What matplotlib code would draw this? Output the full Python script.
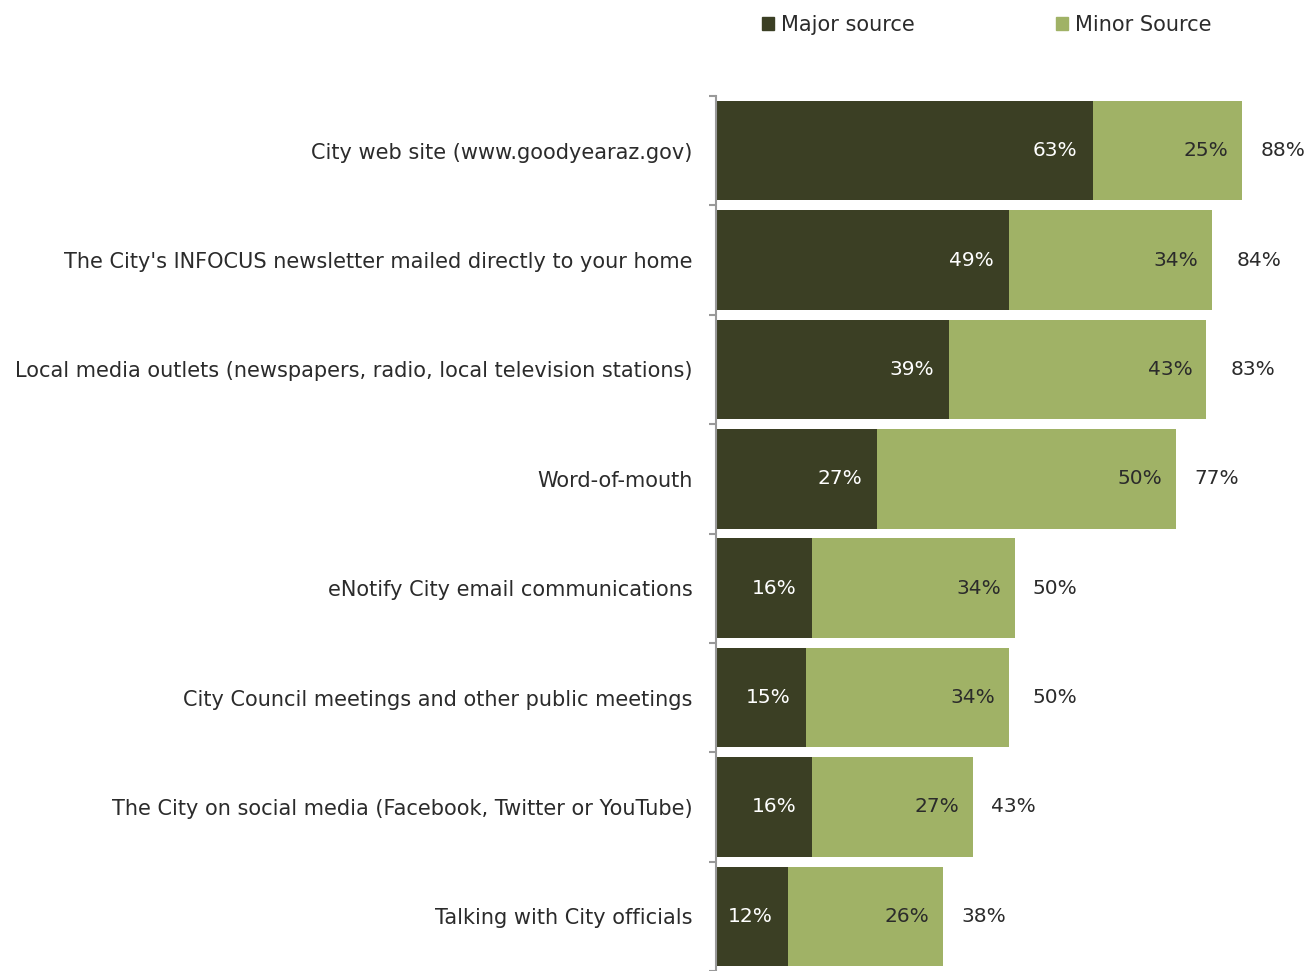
import matplotlib
matplotlib.use("Agg")
import matplotlib.pyplot as plt
from matplotlib.patches import Patch
import numpy as np

categories = [
    "City web site (www.goodyearaz.gov)",
    "The City's INFOCUS newsletter mailed directly to your home",
    "Local media outlets (newspapers, radio, local television stations)",
    "Word-of-mouth",
    "eNotify City email communications",
    "City Council meetings and other public meetings",
    "The City on social media (Facebook, Twitter or YouTube)",
    "Talking with City officials",
]
major = [63, 49, 39, 27, 16, 15, 16, 12]
minor = [25, 34, 43, 50, 34, 34, 27, 26]
total = [88, 84, 83, 77, 50, 50, 43, 38]

dark = "#3B3F24"
light = "#A0B266"
text_col = "#2B2B2B"

plt.rcParams["font.family"] = ["DejaVu Sans"]

fig = plt.figure(figsize=(13.1, 9.71), dpi=100)
ax = fig.add_axes([716 / 1310, 0, 1 - 716 / 1310, 1 - 96 / 971])

y = np.arange(len(categories))
ax.barh(y, major, height=0.91, color=dark)
ax.barh(y, minor, left=major, height=0.91, color=light)

for i in range(len(categories)):
    ax.text(major[i] - 2.6, y[i], f"{major[i]}%", ha="right", va="center",
            color="white", fontsize=14.5)
    ax.text(major[i] + minor[i] - 2.3, y[i], f"{minor[i]}%", ha="right", va="center",
            color=text_col, fontsize=14.5)
    ax.text(total[i] + 3.0, y[i], f"{total[i]}%", ha="left", va="center",
            color=text_col, fontsize=14.5)

ax.set_xlim(0, (1310 - 716) / 5.98)
ax.set_ylim(7.41, -0.5)
ax.set_xticks([])
ax.set_yticks(y)
ax.set_yticklabels(categories, fontsize=15, color=text_col)
ax.tick_params(axis="y", which="major", length=0, pad=17)
ax.set_yticks(np.arange(-0.5, 8, 1), minor=True)
ax.tick_params(axis="y", which="minor", length=5, width=1.5, color="#999999")

for s in ["top", "right", "bottom"]:
    ax.spines[s].set_visible(False)
ax.spines["left"].set_color("#999999")
ax.spines["left"].set_linewidth(1.5)

handles = [Patch(color=dark, label="Major source"),
           Patch(color=light, label="Minor Source")]
fig.legend(handles=handles, loc="center left", bbox_to_anchor=(743 / 1310, 1 - 25 / 971),
           ncol=2, frameon=False, fontsize=15, handlelength=0.6, handleheight=0.6,
           handletextpad=0.3, columnspacing=6.8, labelcolor=text_col)

fig.savefig("out.png", dpi=100)
